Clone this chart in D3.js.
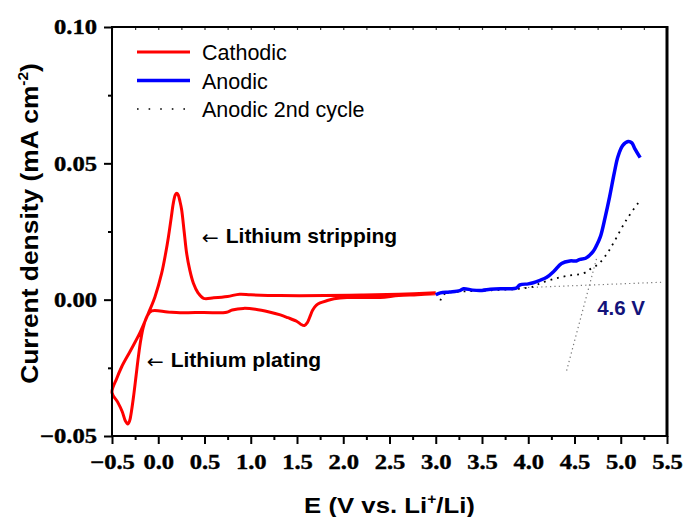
<!DOCTYPE html>
<html><head><meta charset="utf-8">
<script src="https://cdn.jsdelivr.net/npm/d3@7"></script>
<style>body{margin:0;background:#fff}svg{display:block}</style>
</head><body>
<svg id="c" width="683" height="517"></svg>
<script>
// ---- data ----
const cathodicE = [3.0,2.8,2.6,2.4,2.2,2.04,1.9,1.82,1.75,1.71,1.67,1.64,1.61,1.58,1.54,1.5,1.4,1.32,1.2,1.05,0.92,0.8,0.74,0.6,0.4,0.235,0.1,-0.07,-0.12,-0.16,-0.19,-0.215,-0.24,-0.265,-0.29,-0.31,-0.33,-0.355,-0.39,-0.44,-0.5,
  -0.45,-0.395,-0.305,-0.2,-0.107,-0.035,0.037,0.08,0.11,0.14,0.163,0.185,0.2,0.215,0.235,0.253,0.28,0.307,0.34,0.38,0.43,0.49,0.6,0.75,0.88,1.0,1.32,1.8,2.2,2.6,3.0];
const cathodicI = [0.0022,0.0018,0.0015,0.0008,0.0008,0.0008,0.0003,-0.0004,-0.0012,-0.002,-0.0038,-0.0062,-0.0085,-0.0095,-0.0090,-0.008,-0.0066,-0.0056,-0.0045,-0.0035,-0.0032,-0.0038,-0.0046,-0.0048,-0.0047,-0.0048,-0.0045,-0.0041,-0.006,-0.0099,-0.015,-0.021,-0.028,-0.035,-0.041,-0.0445,-0.0456,-0.0445,-0.041,-0.0375,-0.034,
  -0.029,-0.0246,-0.019,-0.0123,-0.005,0.0011,0.0097,0.017,0.023,0.030,0.0354,0.0385,0.039,0.0385,0.036,0.033,0.025,0.017,0.011,0.006,0.0025,0.0005,0.0007,0.0012,0.002,0.0018,0.0015,0.0015,0.0017,0.002,0.0025];
const anodicE = [3.0,3.05,3.15,3.26,3.3,3.4,3.5,3.59,3.7,3.8,3.87,3.91,4.0,4.055,4.12,4.2,4.28,4.36,4.45,4.52,4.56,4.62,4.7,4.74,4.78,4.83,4.88,4.93,4.97,5.02,5.08,5.12,5.15,5.21];
const anodicI = [0.0018,0.0025,0.0028,0.0033,0.0040,0.0035,0.0034,0.0038,0.0040,0.0040,0.0042,0.0054,0.0058,0.0062,0.0070,0.0082,0.0105,0.0133,0.0142,0.0142,0.0148,0.0152,0.0176,0.020,0.0231,0.030,0.0378,0.0465,0.0525,0.0565,0.058,0.0575,0.0555,0.0521];
const anodic2E = [3.05,3.1,3.3,3.5,3.7,3.9,4.055,4.13,4.27,4.415,4.6,4.67,4.76,4.85,4.92,5.06,5.2];
const anodic2I = [-0.0003,0.0022,0.0030,0.0033,0.0036,0.0040,0.0048,0.0060,0.0075,0.0087,0.0097,0.0112,0.0131,0.0168,0.0207,0.0292,0.036];
const tangentBaseE = [3.95,5.45], tangentBaseI = [0.0044,0.0064];
const tangentSteepE = [4.415,4.74], tangentSteepI = [-0.026,0.0153];
const xTicks = [-0.5,0,0.5,1,1.5,2,2.5,3,3.5,4,4.5,5,5.5];
const yTicks = [-0.05,0,0.05,0.10];
const seriesNames = ["Cathodic","Anodic","Anodic 2nd cycle"];

// ---- layout ----
const svg = d3.select("#c");
const L=112,R=667,T=27,B=436;
const x = d3.scaleLinear().domain([-0.5,5.5]).range([L,R]);
const y = d3.scaleLinear().domain([-0.05,0.10]).range([B,T]);
const line = d3.line().x(d=>x(d[0])).y(d=>y(d[1])).curve(d3.curveCatmullRom.alpha(0.5));
const zip=(a,b)=>a.map((v,i)=>[v,b[i]]);

// tangent lines
svg.append("path").attr("d",d3.line().x(d=>x(d[0])).y(d=>y(d[1]))(zip(tangentBaseE,tangentBaseI)))
  .attr("fill","none").attr("stroke","#777").attr("stroke-width",1.2).attr("stroke-dasharray","1.2,3.2");
svg.append("path").attr("d",d3.line().x(d=>x(d[0])).y(d=>y(d[1]))(zip(tangentSteepE,tangentSteepI)))
  .attr("fill","none").attr("stroke","#777").attr("stroke-width",1.2).attr("stroke-dasharray","1.2,3.2");

// curves
svg.append("path").attr("d",line(zip(cathodicE,cathodicI))).attr("fill","none").attr("stroke","#ff0000").attr("stroke-width",3).attr("stroke-linejoin","round");
svg.append("path").attr("d",line(zip(anodic2E,anodic2I))).attr("fill","none").attr("stroke","#000").attr("stroke-width",1.8).attr("stroke-dasharray","1.8,5");
svg.append("path").attr("d",line(zip(anodicE,anodicI))).attr("fill","none").attr("stroke","#0000ff").attr("stroke-width",3.5).attr("stroke-linejoin","round");

// axes
const serif = "'Liberation Serif','Times New Roman',serif";
const sans = "'Liberation Sans',Arial,Helvetica,sans-serif";
const xMinor = d3.range(-0.25,5.5,0.5);
const yMinor = [-0.025,0.025,0.075];
const gx = svg.append("g").attr("transform",`translate(0,${B})`)
  .call(d3.axisBottom(x).tickValues(xTicks).tickFormat(d3.format(".1f")).tickSize(8).tickPadding(10));
const gxm = svg.append("g").attr("transform",`translate(0,${B})`).call(d3.axisBottom(x).tickValues(xMinor).tickFormat("").tickSize(4));
const gy = svg.append("g").attr("transform",`translate(${L},0)`)
  .call(d3.axisLeft(y).tickValues(yTicks).tickFormat(d=>d3.format(".2f")(d)).tickSize(8).tickPadding(7));
const gym = svg.append("g").attr("transform",`translate(${L},0)`).call(d3.axisLeft(y).tickValues(yMinor).tickFormat("").tickSize(4));
const gt = svg.append("g").attr("transform",`translate(0,${T})`).call(d3.axisTop(x).tickValues(d3.range(-0.5,5.51,0.25)).tickFormat("").tickSize(-3));
[gx,gxm,gy,gym,gt].forEach(g=>{g.selectAll(".domain").remove();g.selectAll(".tick line").attr("stroke","#000").attr("stroke-width",2);});
gt.selectAll(".tick line").attr("stroke-width",1.2).attr("stroke","#333");
// frame
svg.append("line").attr("x1",L).attr("x2",L).attr("y1",T-1).attr("y2",B+1).attr("stroke","#000").attr("stroke-width",2);
svg.append("line").attr("x1",L-1).attr("x2",R+1).attr("y1",B).attr("y2",B).attr("stroke","#000").attr("stroke-width",2);
svg.append("line").attr("x1",L-1).attr("x2",R+1).attr("y1",T).attr("y2",T).attr("stroke","#000").attr("stroke-width",2);
svg.append("line").attr("x1",R).attr("x2",R).attr("y1",T-1).attr("y2",B+1).attr("stroke","#000").attr("stroke-width",3);

[gx,gy].forEach(g=>g.selectAll(".tick text").attr("font-family",serif).attr("font-weight","bold").attr("font-size",21).attr("fill","#000")
  .attr("stroke","#000").attr("stroke-width",0.4)
  .each(function(){const w=this.getComputedTextLength();d3.select(this).attr("textLength",w*1.17).attr("lengthAdjust","spacingAndGlyphs");}));

// titles
const xt = svg.append("text").attr("transform",`translate(${(L+R)/2},512.5) scale(1.12,1)`).attr("text-anchor","middle")
  .attr("font-family",sans).attr("font-weight","bold").attr("font-size",23);
xt.append("tspan").text("E (V vs. Li");
xt.append("tspan").attr("font-size",14).attr("dy",-9).text("+");
xt.append("tspan").attr("dy",9).text("/Li)");
const yt = svg.append("text").attr("transform",`translate(37.5,223.5) rotate(-90) scale(1.1,1)`).attr("text-anchor","middle")
  .attr("font-family",sans).attr("font-weight","bold").attr("font-size",24);
yt.append("tspan").text("Current density (mA cm");
yt.append("tspan").attr("font-size",14).attr("dy",-10).text("-2");
yt.append("tspan").attr("dy",10).text(")");

// legend
const legStyles=[{c:"#ff0000",w:3,d:null},{c:"#0000ff",w:3.5,d:null},{c:"#000",w:1.6,d:"1.6,10"}];
seriesNames.forEach((n,i)=>{
  const ly=52+i*28.5;
  svg.append("line").attr("x1",137).attr("x2",190).attr("y1",ly).attr("y2",ly)
    .attr("stroke",legStyles[i].c).attr("stroke-width",legStyles[i].w).attr("stroke-dasharray",legStyles[i].d);
  svg.append("text").attr("x",202).attr("y",ly+8).attr("font-family",sans).attr("font-size",21.5).attr("fill","#000").text(n);
});

// annotations
const annE=[0.47,-0.125], annI=[0.0227,-0.0227], annText=["Lithium stripping","Lithium plating"];
annText.forEach((t,i)=>{
  const ax=x(annE[i]), ay=y(annI[i]);
  svg.append("text").attr("x",ax).attr("y",ay+6).attr("font-family","'DejaVu Sans',sans-serif").attr("font-size",19).attr("textLength",17).attr("lengthAdjust","spacingAndGlyphs").text("\u2190");
  svg.append("text").attr("x",ax+24).attr("y",ay+5.5).attr("font-family",sans).attr("font-weight","bold").attr("font-size",21).text(t);
});
const vE=[4.745], vI=[-0.0058];
svg.append("text").attr("x",x(vE[0])).attr("y",y(vI[0])).attr("font-family",sans).attr("font-weight","bold").attr("font-size",20.5).attr("fill","#13137a").text("4.6 V");
</script>
</body></html>
